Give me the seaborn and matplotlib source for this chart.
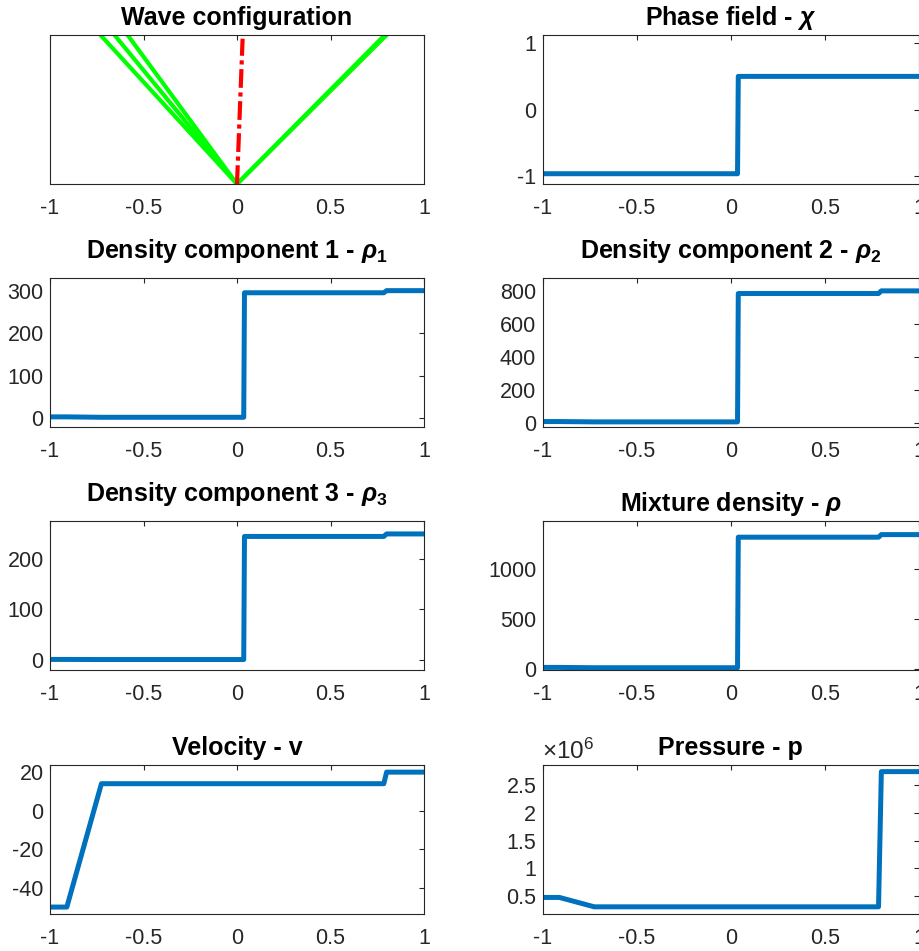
import numpy as np
import pandas as pd
import matplotlib
matplotlib.use("Agg")
import matplotlib.pyplot as plt
import seaborn as sns

# ---------------- data ----------------
x_nodes = [-1.0, -0.91, -0.725, 0.036, 0.040, 0.785, 0.800, 1.0]
chi = [-0.97, -0.97, -0.97, -0.97, 0.5, 0.5, 0.5, 0.5]
rho1 = [3.5, 3.5, 2.5, 2.5, 295.0, 295.0, 300.0, 300.0]
rho2 = [9.0, 9.0, 7.0, 7.0, 784.0, 784.0, 800.0, 800.0]
rho3 = [0.6, 0.6, 0.4, 0.4, 245.0, 245.0, 250.0, 250.0]
rho_mix = [a + b + c for a, b, c in zip(rho1, rho2, rho3)]
velocity = [-50.0, -50.0, 14.0, 14.0, 14.0, 14.0, 20.0, 20.0]
pressure = [0.47e6, 0.47e6, 0.30e6, 0.30e6, 0.30e6, 0.30e6, 2.75e6, 2.75e6]

wave_tops = [-0.73, -0.655, -0.585, 0.79, 0.80]   # x at final time of acoustic waves
contact_top = 0.03                                 # x at final time of contact wave

x_ticks = [-1, -0.5, 0, 0.5, 1]
x_ticklabels = ["-1", "-0.5", "0", "0.5", "1"]

titles = ["Wave configuration", r"Phase field - $\boldsymbol{\chi}$",
          r"Density component 1 - $\boldsymbol{\rho}_\mathbf{1}$",
          r"Density component 2 - $\boldsymbol{\rho}_\mathbf{2}$",
          r"Density component 3 - $\boldsymbol{\rho}_\mathbf{3}$",
          r"Mixture density - $\boldsymbol{\rho}$",
          "Velocity - v", "Pressure - p"]
title_has_sub = [False, False, True, True, True, False, False, False]

series = [None, chi, rho1, rho2, rho3, rho_mix, velocity, pressure]
y_ticks = [None, [-1, 0, 1], [0, 100, 200, 300], [0, 200, 400, 600, 800],
           [0, 100, 200], [0, 500, 1000], [-40, -20, 0, 20],
           [0.5e6, 1.0e6, 1.5e6, 2.0e6, 2.5e6]]
y_ticklabels = [None, ["-1", "0", "1"], ["0", "100", "200", "300"],
                ["0", "200", "400", "600", "800"], ["0", "100", "200"],
                ["0", "500", "1000"], ["-40", "-20", "0", "20"],
                ["0.5", "1", "1.5", "2", "2.5"]]
y_limits = [(0, 1), (-1.125, 1.125), (-20.3, 329.7), (-24, 878), (-20.4, 275.7),
            (-13, 1487), (-53.6, 23.7), (0.17e6, 2.87e6)]

# ---------------- style ----------------
sns.set_style("white")
plt.rcParams["font.family"] = ["Liberation Sans", "DejaVu Sans"]
plt.rcParams["mathtext.fontset"] = "custom"
plt.rcParams["mathtext.rm"] = "Liberation Sans"
plt.rcParams["mathtext.bf"] = "Liberation Sans:bold"
plt.rcParams["mathtext.it"] = "Liberation Sans:italic"
plt.rcParams["mathtext.bfit"] = "Liberation Sans:bold:italic"
plt.rcParams["mathtext.fallback"] = "stixsans"
plt.rcParams["axes.unicode_minus"] = False

BLUE = "#0072BD"
AX_COL = "#262626"
TICK_FS = 15.5
TITLE_FS = 18

W, H = 919, 951
fig = plt.figure(figsize=(W / 100, H / 100), dpi=100)

row_tops = [35, 278, 521, 765]
ax_h = 149
cols = [(50, 374), (542.5, 376.5)]

axes = []
for r in range(4):
    for c in range(2):
        l, w = cols[c]
        top = row_tops[r]
        ax = fig.add_axes([l / W, 1 - (top + ax_h) / H, w / W, ax_h / H])
        axes.append(ax)

for i, ax in enumerate(axes):
    if i == 0:
        for xt in wave_tops:
            sns.lineplot(x=[0.0, xt], y=[0.0, 1.0], ax=ax, color="#00FF00",
                         linewidth=3.0, sort=False, estimator=None)
        sns.lineplot(x=[0.0, contact_top], y=[0.0, 0.975], ax=ax, color="#FF0000",
                     linewidth=3.0, sort=False, estimator=None,
                     linestyle=(0, (4.5, 1.1, 1, 1.1)))
        ax.set_yticks([])
    else:
        df = pd.DataFrame({"x": x_nodes, "y": series[i]})
        sns.lineplot(data=df, x="x", y="y", ax=ax, color=BLUE, linewidth=3.6,
                     sort=False, estimator=None)
        ax.set_yticks(y_ticks[i])
        ax.set_yticklabels(y_ticklabels[i])
    ax.set_xlim(-1, 1)
    ax.set_ylim(*y_limits[i])
    ax.set_xticks(x_ticks)
    ax.set_xticklabels(x_ticklabels)
    ax.set_xlabel("")
    ax.set_ylabel("")
    ax.tick_params(direction="in", length=3.5, width=0.8, top=True, right=True,
                   labelsize=TICK_FS, colors=AX_COL)
    ax.tick_params(axis="x", pad=10)
    ax.tick_params(axis="y", pad=4.5)
    for sp in ax.spines.values():
        sp.set_visible(True)
        sp.set_color(AX_COL)
        sp.set_linewidth(0.8)
    ax.set_title(titles[i], fontsize=TITLE_FS, fontweight="bold", color="black",
                 pad=(14.5 if title_has_sub[i] else 7.0))

axes[7].text(0.0, 1.01, r"$\times10^6$", transform=axes[7].transAxes,
             fontsize=17.5, color=AX_COL, ha="left", va="bottom")

fig.savefig("out.png", dpi=100)
